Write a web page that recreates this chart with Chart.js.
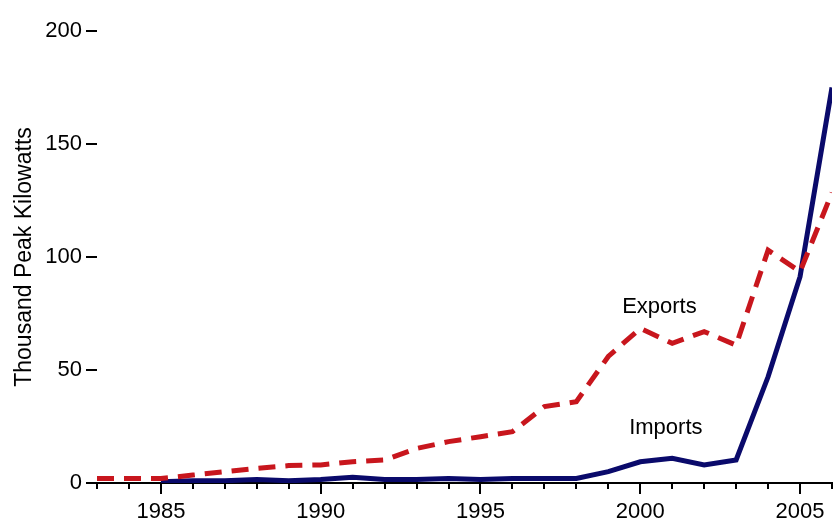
<!DOCTYPE html>
<html>
<head>
<meta charset="utf-8">
<script src="https://cdn.jsdelivr.net/npm/chart.js@4/dist/chart.umd.min.js"></script>
<style>
  html, body { margin: 0; padding: 0; background: #fff; }
  #wrap { width: 833px; height: 523px; }
</style>
</head>
<body>
<div id="wrap"><canvas id="pv"></canvas></div>
<script>
/*-------------------
    PV TRADE DATA
--------------------*/

const years = [1983, 1984, 1985, 1986, 1987, 1988, 1989, 1990, 1991, 1992, 1993, 1994,
               1995, 1996, 1997, 1998, 1999, 2000, 2001, 2002, 2003, 2004, 2005, 2006];
const exportsKw = [2, 2, 2, 3.5, 5, 6.5, 7.7, 8, 9.4, 10.2, 15.3, 18.3,
                   20.5, 22.7, 33.8, 36, 56, 68.4, 61.8, 67, 61, 103, 93.5, 128.5];
const importsKw = [null, null, 0.5, 1, 1, 1.5, 1, 1.5, 2.5, 1.5, 1.5, 2,
                   1.5, 2, 2, 2, 5, 9.4, 10.9, 8, 10.2, 47, 91.3, 175];
const yTicks = [0, 50, 100, 150, 200];
const seriesNames = ['Exports', 'Imports'];
const yTitle = 'Thousand Peak Kilowatts';

const FONT = '"Liberation Sans", Arial, Helvetica, sans-serif';

// in-plot labels, y title + x tick marks
const decor = {
    id: 'decor',
    afterDraw(chart) {
        const ctx = chart.ctx;
        const x = chart.scales.x, y = chart.scales.y;
        ctx.save();
        ctx.strokeStyle = '#000';
        ctx.lineWidth = 2;
        years.forEach(yr => {
            const px = Math.round(x.getPixelForValue(yr));
            const len = yr % 5 === 0 ? 11 : 6;
            ctx.beginPath();
            ctx.moveTo(px, y.bottom);
            ctx.lineTo(px, y.bottom + len);
            ctx.stroke();
        });
        ctx.font = '22px ' + FONT;
        ctx.fillStyle = '#000';
        ctx.textAlign = 'center';
        ctx.textBaseline = 'middle';
        ctx.fillText(seriesNames[0], x.getPixelForValue(2000.6), y.getPixelForValue(78));
        ctx.fillText(seriesNames[1], x.getPixelForValue(2000.8), y.getPixelForValue(24.3));

        ctx.font = '23px ' + FONT;
        ctx.translate(25, 257);
        ctx.rotate(-Math.PI / 2);
        ctx.fillText(yTitle, 0, 0);
        ctx.restore();
    }
};

const canvas = document.getElementById('pv');

new Chart(canvas, {
    type: 'line',
    data: {
        datasets: [
            {
                label: seriesNames[0],
                data: years.map((yr, i) => ({x: yr, y: exportsKw[i]})),
                borderColor: '#c8161d',
                borderWidth: 5,
                borderDash: [17, 10],
                pointRadius: 0,
                tension: 0,
                fill: false
            },
            {
                label: seriesNames[1],
                data: years.map((yr, i) => ({x: yr, y: importsKw[i]})),
                borderColor: '#0a0a6b',
                borderWidth: 5,
                pointRadius: 0,
                tension: 0,
                fill: false
            }
        ]
    },
    options: {
        responsive: true,
        maintainAspectRatio: false,
        animation: false,
        layout: { padding: { top: 31, right: 1, left: 0, bottom: 0 } },
        plugins: {
            legend: { display: false },
            tooltip: { enabled: false }
        },
        scales: {
            x: {
                type: 'linear',
                min: 1983,
                max: 2006,
                afterFit: s => { s.height = 40; s.paddingLeft = 0; s.paddingRight = 0; },
                afterBuildTicks: s => { s.ticks = years.map(v => ({value: v})); },
                border: { display: true, color: '#000', width: 2 },
                grid: { display: true, drawOnChartArea: false, drawTicks: true, tickLength: 11, color: 'transparent' },
                ticks: {
                    autoSkip: false,
                    maxRotation: 0,
                    padding: 5,
                    color: '#000',
                    font: { family: FONT, size: 22 },
                    callback: v => (v % 5 === 0 ? String(v) : '')
                }
            },
            y: {
                min: 0,
                max: 200,
                afterFit: s => { s.width = 97; s.paddingTop = 0; s.paddingBottom = 0; },
                afterBuildTicks: s => { s.ticks = yTicks.map(v => ({value: v})); },
                border: { display: false },
                grid: { display: true, drawOnChartArea: false, drawTicks: true, tickLength: 11, color: '#000', lineWidth: 2 },
                ticks: {
                    padding: 4,
                    color: '#000',
                    font: { family: FONT, size: 22 }
                }
            }
        }
    },
    plugins: [decor]
});
</script>
</body>
</html>
